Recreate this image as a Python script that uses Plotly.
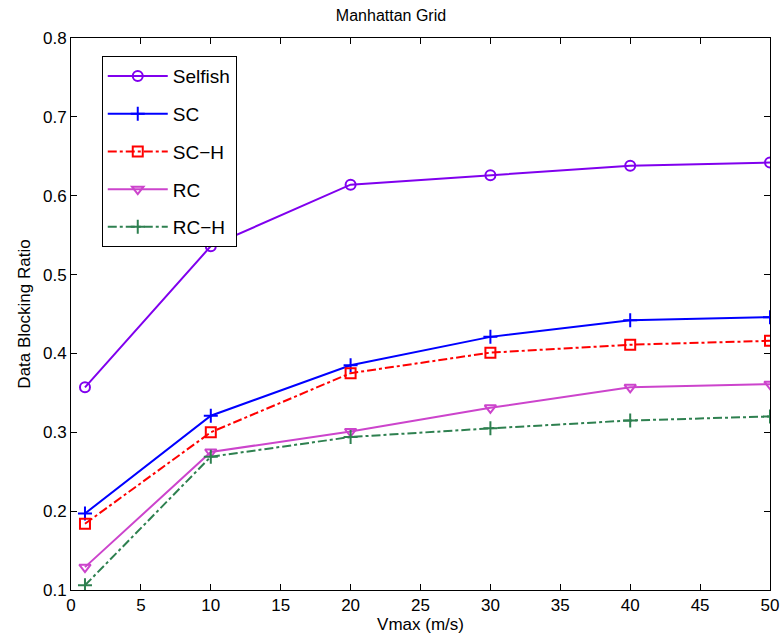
import plotly.graph_objects as go

x = [1, 10, 20, 30, 40, 50]
selfish = [0.357, 0.536, 0.614, 0.626, 0.638, 0.642]
sc = [0.197, 0.321, 0.385, 0.421, 0.442, 0.446]
sc_h = [0.184, 0.300, 0.375, 0.401, 0.411, 0.416]
rc = [0.129, 0.275, 0.301, 0.331, 0.357, 0.361]
rc_h = [0.106, 0.269, 0.294, 0.305, 0.315, 0.320]

names = ["Selfish", "SC", "SC\u2212H", "RC", "RC\u2212H"]
series = [selfish, sc, sc_h, rc, rc_h]
colors = ["#8000ee", "#0000ff", "#ff0000", "#cc44cc", "#2e8050"]
dashes = ["solid", "solid", "dashdot", "solid", "dashdot"]
symbols = ["circle-open", "cross-thin-open", "square-open", "triangle-down-open", "cross-thin-open"]

FONT = "Liberation Sans, Arial"

fig = go.Figure()
for n, s, c, d, m in zip(names, series, colors, dashes, symbols):
    fig.add_trace(go.Scatter(
        x=x, y=s, name=n, mode="lines+markers", legendgroup=n,
        line=dict(color=c, width=2, dash=d),
        marker=dict(symbol=m, size=10, color=c, line=dict(color=c, width=2)),
    ))

axis_common = dict(
    showgrid=False, zeroline=False, showline=True, linecolor="black", linewidth=1,
    mirror="ticks", ticks="inside", ticklen=6, tickcolor="black", automargin=False,
    tickfont=dict(family=FONT, size=17, color="black"),
)
fig.update_xaxes(range=[0, 50], dtick=5, ticklabeloverflow="allow",
                 title=dict(text="Vmax (m/s)", standoff=2,
                            font=dict(family=FONT, size=17, color="black")), **axis_common)
fig.update_yaxes(range=[0.1, 0.8], dtick=0.1, tickformat=".1f",
                 title=dict(text="Data Blocking Ratio", standoff=8,
                            font=dict(family=FONT, size=17, color="black")), **axis_common)

fig.update_layout(
    width=782, height=641,
    margin=dict(l=71, r=12, t=38, b=51),
    paper_bgcolor="white", plot_bgcolor="white",
    title=dict(text="Manhattan Grid", x=0.5, xanchor="center", y=0.985, yanchor="top",
               font=dict(family=FONT, size=16, color="black")),
    legend=dict(x=0.044, y=0.967, xanchor="left", yanchor="top",
                bgcolor="white", bordercolor="black", borderwidth=1,
                font=dict(family=FONT, size=19, color="black"),
                itemwidth=60, tracegroupgap=10),
    showlegend=True,
)

fig.write_html("out.html")
